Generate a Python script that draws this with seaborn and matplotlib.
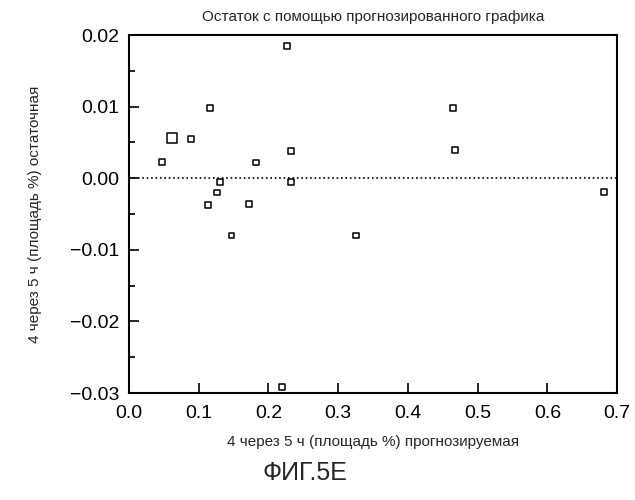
import numpy as np
import pandas as pd
import matplotlib.pyplot as plt
import seaborn as sns
from matplotlib.ticker import MultipleLocator, FormatStrFormatter, FuncFormatter

predicted = [0.047, 0.062, 0.0895, 0.116, 0.114, 0.126, 0.130, 0.147, 0.172, 0.182,
             0.227, 0.233, 0.233, 0.219, 0.326, 0.465, 0.468, 0.681]
residual = [0.0023, 0.0056, 0.0055, 0.0098, -0.0037, -0.0020, -0.0005, -0.0080, -0.0036, 0.0022,
            0.0185, 0.0038, -0.0005, -0.0291, -0.0080, 0.0098, 0.0039, -0.0019]
point_size = [18, 55, 18, 18, 18, 18, 18, 18, 18, 18, 18, 18, 18, 18, 18, 18, 18, 18]

df = pd.DataFrame({'pred': predicted, 'resid': residual, 'size': point_size})

sns.set_style('white')
plt.rcParams['font.family'] = 'Liberation Sans'

fig = plt.figure(figsize=(6.35, 5), dpi=100)
ax = fig.add_axes([0.203, 0.214, 0.769, 0.716])

ax.axhline(0, color='black', linestyle=':', linewidth=1.2)
sns.scatterplot(data=df, x='pred', y='resid', size='size', sizes=(18, 55),
                marker='s', facecolor='white', edgecolor='black', linewidth=1.1,
                legend=False, ax=ax)

ax.set_xlim(0, 0.7)
ax.set_ylim(-0.03, 0.02)
ax.xaxis.set_major_locator(MultipleLocator(0.1))
ax.yaxis.set_major_locator(MultipleLocator(0.01))
ax.yaxis.set_minor_locator(MultipleLocator(0.005))
ax.xaxis.set_major_formatter(FormatStrFormatter('%.1f'))
ax.yaxis.set_major_formatter(FuncFormatter(lambda v, p: f'{v:.2f}'.replace('-', '\u2212')))
ax.tick_params(which='both', direction='in', labelsize=14, width=1.2,
               bottom=True, left=True, colors='black')
ax.tick_params(which='major', length=7)
ax.tick_params(axis='y', which='major', pad=7)
ax.tick_params(axis='x', which='major', pad=9)
ax.tick_params(which='minor', length=4)
for s in ax.spines.values():
    s.set_linewidth(1.5)
    s.set_color('black')

ax.set_title('Остаток с помощью прогнозированного графика', fontsize=11, pad=10)
ax.set_xlabel('4 через 5 ч (площадь %) прогнозируемая', fontsize=11, labelpad=9)
ax.set_ylabel('4 через 5 ч (площадь %) остаточная', fontsize=11, labelpad=20)
fig.text(0.48, 0.04, 'ФИГ.5Е', fontsize=18, ha='center')

fig.savefig('out.png', dpi=100)
